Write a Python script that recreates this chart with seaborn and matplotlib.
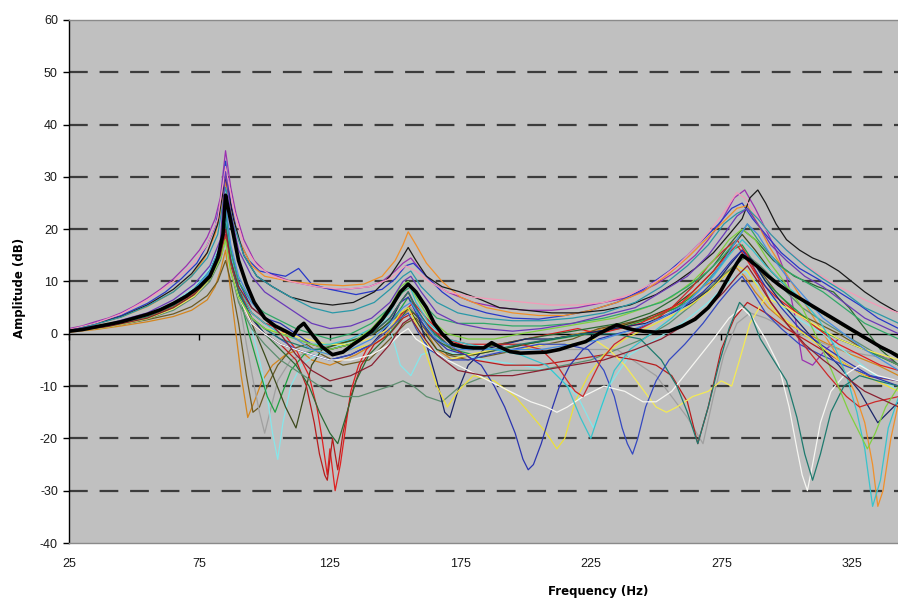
import numpy as np
import pandas as pd
import matplotlib
matplotlib.use("Agg")
import matplotlib.pyplot as plt
import seaborn as sns

# ---------------- data (Hz, dB) ----------------
purple = [(25,1),(30,1.5),(35,2.3),(40,3),(45,4),(50,5.3),(55,6.8),(60,8.5),(65,10.5),(70,13),(75,16),(78,18.5),(81,22),(83,26),(85,35),(87,28),(89,23),(92,18),(96,14),(100,12),(105,11),(110,10),(115,9.5),(120,9),(125,8.6),(130,8.5),(135,8.7),(140,9),(145,10),(150,12),(153,13.5),(156,14.5),(160,12),(165,9.5),(170,8),(175,7),(180,6),(190,5),(200,4.5),(210,4.5),(220,5),(230,6),(240,7),(250,9.5),(258,12),(265,15),(270,18),(275,21.5),(280,26),(284,27.5),(288,24),(292,20),(296,16),(300,11),(303,4),(306,-5),(310,-6),(315,-3),(320,-1),(325,-2),(330,-3),(335,-4),(340,-5),(343,-6)]
blue = [(25,0.7),(35,2),(45,3.5),(55,5.8),(62,8),(68,10.5),(74,13.5),(78,17),(81,20.5),(83,25),(85,33),(87,25),(90,18),(94,14),(98,12),(103,11.5),(108,11),(113,12.5),(118,9.5),(125,8.5),(135,7.5),(145,8.5),(150,10.5),(154,13),(157,13.5),(162,11),(168,8),(175,5.5),(185,4),(195,3),(205,2.8),(215,3.5),(225,4.5),(235,6),(245,8.5),(255,12),(262,15),(268,18),(274,21),(279,24),(283,25),(287,22),(292,19),(298,15.5),(305,12.5),(312,10.5),(320,8),(328,5.5),(335,3),(343,1)]
orange = [(25,0.6),(35,1.8),(45,3.2),(55,5.2),(65,8),(72,11),(77,14.5),(81,19),(83,23),(85,29),(87,24),(90,18),(95,13),(100,11),(105,10.5),(110,10),(120,9.5),(130,9.2),(138,9.5),(145,11),(150,14),(153,17),(155,19.5),(158,17),(162,13.5),(168,10),(175,7),(185,5),(195,4),(205,3.5),(215,3.5),(225,4.5),(235,6),(245,8),(255,11.5),(263,15),(270,18.5),(276,21.5),(281,24),(285,24.5),(289,21),(293,17),(298,13),(303,9),(308,5),(313,1),(318,-3),(322,-7),(326,-11),(330,-17),(333,-25),(335,-33),(337,-30),(340,-20),(343,-13)]
orange2 = [(25,0.3),(35,0.8),(45,1.5),(55,2.3),(65,3.3),(72,4.5),(78,6.5),(81,9),(83,12),(85,16),(87,8),(89,0),(91,-8),(93.5,-16),(96,-13),(99,-9),(103,-6),(108,-4),(113,-3),(118,-5),(125,-6),(135,-4),(145,-1),(152,3),(156,5),(160,2),(166,-3),(172,-5),(180,-4),(190,-3),(200,-2),(210,-1),(220,0),(230,1),(240,2),(250,3),(260,6),(268,9),(275,11),(280,13),(284,11),(288,8),(293,5),(300,2),(308,0),(316,-2),(325,-4),(335,-6),(343,-8)]
olive = [(25,0.4),(35,1),(45,1.8),(55,2.7),(65,3.8),(72,5.2),(78,7.3),(82,10),(85,14),(87,10),(90,2),(93,-8),(95.5,-15),(98,-14),(101,-10),(105,-6),(110,-3),(116,-2),(122,-4),(130,-6),(140,-5),(148,-1),(154,2),(158,3),(163,0),(170,-4),(178,-5),(188,-4),(198,-3),(208,-2),(218,-1),(228,1),(238,2),(248,3),(258,5),(266,7),(274,10),(280,13),(285,15),(290,12),(296,8),(304,4),(312,2),(320,0),(330,-3),(343,-6)]
gray = [(25,0.5),(40,1.6),(55,3.5),(65,5.5),(73,8),(79,11.5),(83,16),(85,22),(87,15),(90,7),(93,-2),(96,-10),(98,-15),(100,-19),(102,-15),(105,-9),(110,-5),(118,-3),(126,-2),(135,-1),(145,1),(152,4),(156,5),(160,2),(168,-2),(178,-3),(190,-3),(205,-3),(220,-3),(235,-3),(250,-8),(262,-16),(268,-21),(272,-12),(276,-4),(281,2),(286,4),(292,3),(300,1),(310,-1),(320,-3),(330,-4),(343,-5)]
lightcyan = [(25,0.6),(40,1.8),(55,3.8),(65,6),(73,8.8),(79,12.5),(83,17),(85,22),(87,16),(90,10),(94,3),(98,-5),(101,-12),(103,-19),(105,-24),(107,-17),(110,-10),(114,-6),(120,-4),(130,-2),(140,0),(147,3),(152,-6),(156,-8),(160,-4),(166,-3),(174,-4),(185,-5),(198,-6),(210,-7),(220,-12),(226,-18),(232,-10),(240,-4),(250,-1),(260,2),(270,6),(278,10),(284,12),(290,9),(296,6),(304,3),(314,0),(324,-4),(334,-8),(343,-11)]
green = [(25,0.4),(40,1.5),(55,3.2),(65,5.2),(73,7.8),(79,11),(83,15),(85,20),(87,14),(90,8),(94,0),(98,-7),(101,-12),(104,-15),(107,-11),(110,-7),(115,-4),(120,-3),(128,-2),(136,-1),(145,1),(151,4),(155,7),(159,4),(165,0),(172,-3),(180,-4),(190,-3),(200,-2),(212,-1),(224,0),(236,1),(248,3),(258,5),(266,8),(273,12),(279,16),(283,17),(287,14),(292,10),(298,7),(305,4),(312,1),(320,-1),(330,-3),(343,-6)]
darkolive = [(25,0.5),(40,1.7),(55,3.6),(65,5.8),(73,8.5),(79,12),(83,16.5),(85,21),(87,15),(90,9),(95,2),(100,-4),(104,-9),(108,-14),(112,-18),(115,-12),(118,-6),(122,-3),(128,-2),(135,-1),(142,0),(150,3),(155,5),(160,1),(166,-3),(172,-4),(180,-4),(190,-3),(200,-2),(210,-1),(222,0),(234,1),(246,3),(256,5),(264,8),(272,12),(278,16),(283,19),(288,16),(294,12),(302,8),(310,5),(320,2),(330,-1),(343,-4)]
red1 = [(25,0.5),(40,1.6),(55,3.4),(65,5.4),(73,8),(79,11.5),(83,16),(85,21),(87,15),(90,9),(95,4),(100,2),(106,1),(112,-3),(117,-8),(120,-14),(122,-20),(124,-27),(125,-22),(127,-30),(129,-25),(131,-18),(133,-11),(136,-6),(139,-3),(143,-1),(148,1),(153,4),(157,6),(162,3),(170,-1),(180,-3),(190,-2),(200,-1),(210,0),(220,1),(228,0),(236,1),(244,2),(252,4),(260,6),(266,9),(272,12),(277,15),(281,17),(285,14),(290,10),(296,7),(304,4),(312,1),(320,-2),(328,-4),(336,-6),(343,-7)]
red2 = [(25,0.4),(40,1.4),(55,3),(65,5),(73,7.5),(79,10.5),(83,15),(85,19),(87,13),(90,7),(95,2),(100,0),(106,-2),(112,-5),(116,-10),(119,-17),(121,-23),(123,-27),(124,-28),(126,-20),(128,-26),(130,-19),(133,-12),(137,-6),(142,-2),(148,0),(153,3),(157,4),(162,2),(170,-2),(180,-5),(192,-6),(205,-6),(218,-5),(230,-4),(242,-5),(250,-6),(256,-8),(262,-13),(266,-21),(270,-14),(275,-3),(280,3),(285,6),(292,4),(300,1),(310,-2),(320,-5),(330,-8),(343,-9)]
darkgreen = [(25,0.5),(40,1.6),(55,3.5),(65,5.6),(73,8.2),(79,11.8),(83,16),(85,20),(87,14),(90,8),(95,3),(100,0),(106,-3),(112,-6),(117,-10),(121,-15),(125,-19),(128,-21),(131,-16),(135,-9),(140,-4),(146,-1),(151,2),(155,5),(159,3),(165,-1),(172,-3),(180,-3),(190,-2),(200,-1),(212,0),(224,1),(236,2),(248,4),(258,7),(266,10),(272,13),(278,17),(283,20),(288,18),(295,14),(303,11),(312,9),(318,8),(324,5),(330,1),(336,-3),(343,-6)]
sage = [(25,0.4),(40,1.3),(55,2.8),(65,4.5),(73,7),(79,10),(83,14),(85,18),(87,12),(90,6),(95,1),(100,-2),(106,-5),(112,-7),(118,-9),(124,-11),(130,-12),(136,-12),(142,-11),(148,-10),(153,-9),(157,-10),(162,-12),(168,-13),(175,-10),(185,-8),(195,-7),(205,-7),(215,-6),(225,-5),(235,-3),(245,-1),(255,2),(265,6),(273,10),(280,13),(285,15),(290,13),(298,9),(306,5),(315,2),(325,-1),(335,-4),(343,-6)]
blackthin = [(25,0.7),(35,1.9),(45,3.3),(55,5.5),(65,8.5),(72,11.5),(78,15.5),(82,21),(85,30),(88,22),(92,15),(97,11),(103,9),(110,7),(118,6),(126,5.5),(134,6),(142,8),(148,11),(152,14),(155,16.5),(158,14),(162,11),(168,9),(175,8),(183,6.5),(190,5),(200,4.5),(210,4),(220,4),(230,4.5),(240,5.5),(250,7.5),(258,10),(265,12.5),(272,15.5),(278,19),(283,22),(286,26),(289,27.5),(292,25),(296,21),(300,18),(305,16),(310,14.5),(315,13.5),(320,12),(325,10),(330,8),(336,6),(343,4)]
navy = [(25,0.5),(40,1.5),(55,3.2),(65,5.2),(73,7.8),(79,11),(83,15),(85,19),(87,13),(90,8),(95,3),(100,0),(106,-2),(112,-3),(118,-4),(125,-5),(133,-4),(141,-2),(148,2),(152,6),(155,8),(158,5),(162,-2),(166,-9),(169,-15),(171,-16),(174,-11),(178,-6),(184,-3),(192,-2),(200,-1),(210,-1),(222,0),(234,1),(246,2),(256,4),(264,6),(272,9),(278,13),(283,16),(287,14),(292,10),(298,6),(305,2),(312,-2),(320,-6),(328,-11),(335,-17),(343,-13)]
yellow1 = [(25,0.5),(40,1.5),(55,3.2),(65,5.2),(73,7.8),(79,11),(83,15),(85,19),(87,14),(90,9),(95,5),(100,3),(106,1),(112,-1),(118,-3),(125,-4),(133,-3),(141,-2),(148,1),(152,4),(155,5),(158,2),(162,-4),(166,-10),(170,-14),(174,-11),(180,-8),(188,-9),(196,-12),(203,-16),(208,-19),(212,-22),(215,-20),(219,-13),(224,-8),(230,-4),(238,-1),(246,1),(254,3),(262,5),(270,8),(276,11),(281,13),(285,12),(290,8),(296,4),(304,1),(312,-2),(320,-5),(330,-8),(343,-11)]
yellow2 = [(25,0.4),(40,1.3),(55,2.9),(65,4.8),(73,7.2),(79,10.5),(83,14.5),(85,18),(87,12),(90,7),(95,3),(100,1),(108,0),(116,-1),(124,-2),(132,-2),(140,-1),(148,1),(152,3),(155,4),(158,1),(164,-3),(170,-5),(178,-4),(188,-3),(198,-3),(208,-2),(218,-2),(226,-1),(232,-3),(238,-6),(244,-10),(250,-14),(254,-15),(258,-14),(264,-12),(270,-11),(275,-9),(279,-10),(282,-5),(286,2),(292,7),(300,5),(310,2),(320,-1),(330,-3),(343,-5)]
royal1 = [(25,0.6),(40,1.7),(55,3.6),(65,5.8),(73,8.5),(79,12),(83,16.5),(85,23),(87,16),(90,10),(95,5),(100,3),(106,2),(112,0),(118,-2),(125,-3),(133,-2),(141,0),(148,3),(152,6),(155,7),(158,4),(163,0),(170,-3),(177,-4),(183,-6),(188,-10),(192,-14),(196,-19),(199,-24),(201,-26),(203,-25),(206,-21),(209,-16),(213,-10),(217,-6),(222,-3),(228,-1),(235,0),(243,1),(252,3),(260,5),(268,8),(274,11),(279,14),(283,16),(287,13),(292,9),(298,5),(305,1),(313,-2),(322,-5),(332,-8),(343,-10)]
royal2 = [(25,0.5),(40,1.6),(55,3.4),(65,5.5),(73,8.2),(79,11.5),(83,16),(85,21),(87,14),(90,8),(95,3),(100,1),(106,-1),(112,-3),(118,-4),(125,-5),(133,-4),(141,-2),(148,1),(152,3),(155,4),(158,1),(163,-3),(170,-5),(178,-5),(186,-4),(195,-3),(205,-2),(215,-2),(224,-3),(230,-7),(234,-12),(237,-18),(239,-21),(241,-23),(243,-20),(246,-14),(250,-9),(255,-5),(261,-2),(268,2),(274,6),(279,9),(283,11),(287,8),(292,4),(298,1),(305,-2),(313,-4),(322,-6),(332,-8),(343,-9)]
white = [(25,0.5),(40,1.5),(55,3.3),(65,5.3),(73,8),(79,11.3),(83,15.5),(85,20),(87,13),(90,7),(95,2),(100,0),(106,-2),(112,-3),(118,-4),(125,-5),(133,-5),(141,-4),(148,-2),(152,0),(155,1),(158,-1),(164,-3),(170,-5),(178,-7),(186,-9),(194,-11),(202,-13),(208,-14),(212,-15),(216,-14),(222,-12),(230,-10),(238,-11),(245,-13),(250,-13),(256,-11),(264,-6),(272,-1),(278,3),(283,5),(287,3),(292,-1),(297,-6),(301,-14),(304,-22),(306,-27),(308,-30),(310,-25),(313,-17),(317,-11),(322,-8),(328,-6),(335,-8),(343,-9)]
red3 = [(25,0.5),(40,1.5),(55,3.2),(65,5.2),(73,7.8),(79,11),(83,15),(85,19),(87,13),(90,8),(95,4),(100,2),(106,1),(112,-1),(118,-2),(125,-3),(133,-2),(141,0),(148,3),(152,6),(155,8),(158,5),(163,1),(170,-1),(178,-2),(188,-2),(198,-2),(206,-3),(212,-6),(216,-9),(219,-11),(222,-12),(225,-9),(229,-5),(234,-2),(240,0),(248,2),(256,5),(264,9),(270,13),(276,16),(281,18),(285,15),(289,11),(294,6),(300,2),(308,-3),(316,-8),(323,-12),(328,-14),(334,-13),(343,-12)]
cyan2 = [(25,0.6),(40,1.7),(55,3.6),(65,5.8),(73,8.5),(79,12),(83,16.5),(85,22),(87,15),(90,9),(95,4),(100,2),(106,0),(112,-1),(118,-2),(125,-2),(133,-1),(141,1),(148,4),(152,8),(155,10),(158,6),(163,2),(170,-1),(178,-2),(188,-3),(198,-4),(208,-6),(216,-10),(221,-16),(225,-20),(229,-14),(234,-7),(240,-3),(248,0),(256,3),(264,7),(272,11),(278,15),(283,18),(287,16),(292,13),(298,10),(305,7),(312,3),(318,-2),(323,-8),(327,-15),(330,-22),(333,-33),(336,-28),(339,-18),(343,-12)]
teal = [(25,0.5),(40,1.5),(55,3.3),(65,5.4),(73,8),(79,11.5),(83,16),(85,21),(87,14),(90,8),(95,3),(100,1),(106,-1),(112,-2),(118,-3),(125,-3),(133,-2),(141,0),(148,3),(152,6),(155,8),(158,5),(163,1),(170,-2),(178,-3),(188,-3),(198,-2),(210,-1),(222,0),(234,0),(244,-1),(252,-5),(258,-10),(262,-15),(266,-21),(270,-14),(274,-6),(278,1),(282,6),(286,4),(290,-1),(295,-5),(300,-9),(304,-16),(307,-23),(310,-28),(313,-23),(317,-15),(322,-10),(328,-8),(335,-9),(343,-10)]
lightgreen = [(25,0.4),(40,1.4),(55,3),(65,5),(73,7.5),(79,10.5),(83,14.5),(85,18),(87,12),(90,7),(95,3),(100,1),(106,0),(112,-1),(118,-2),(125,-3),(133,-2),(141,1),(148,5),(152,9),(155,10),(158,7),(163,3),(170,0),(178,-1),(188,-1),(198,0),(210,1),(222,2),(234,3),(246,5),(256,7),(264,10),(272,14),(278,18),(283,20),(288,18),(293,14),(299,10),(306,5),(313,-2),(319,-9),(324,-15),(328,-19),(331,-22),(334,-19),(338,-14),(343,-10)]
pink = [(25,0.8),(35,2),(45,3.8),(55,6.5),(65,10),(72,13),(78,17),(82,22),(85,32),(88,24),(92,17),(97,13),(103,11),(110,10),(120,9),(130,8.5),(140,9),(148,10.5),(154,13),(158,12),(163,10),(170,8),(180,7),(190,6.5),(200,6),(210,5.5),(220,5.5),(230,6),(240,7.5),(250,10),(258,13),(266,17),(272,20.5),(277,24),(281,27),(284,26),(288,23),(292,20),(298,17),(305,14),(312,11.5),(320,9),(330,6.5),(337,5),(343,4)]
teal2 = [(25,0.6),(35,1.8),(45,3.2),(55,5.3),(65,8),(72,11),(78,14.5),(82,19),(85,28),(88,21),(92,15),(97,11),(103,9),(110,7),(118,5),(126,4),(134,4.5),(142,6),(148,8.5),(153,11),(156,12),(160,9),(166,6),(174,4),(184,3),(195,2.5),(206,2.5),(218,3),(230,4),(242,6),(252,9),(262,13),(270,17),(276,21),(281,23),(285,24),(289,22),(294,19),(300,16),(307,13),(314,10.5),(322,8),(330,5),(343,2)]
green2 = [(25,0.5),(40,1.6),(55,3.4),(65,5.5),(73,8.2),(79,11.5),(83,16),(85,24),(87,16),(90,10),(95,6),(100,4),(106,2.5),(112,1),(118,0),(125,-1),(133,0),(141,2),(148,5),(153,8),(156,9),(160,6),(166,3),(174,2),(184,2),(195,1.5),(206,1.5),(218,2),(230,3),(242,4.5),(252,6),(262,9),(270,12),(276,15),(281,18),(285,21),(289,18),(294,15),(300,12),(307,10),(314,8),(322,5),(330,2),(343,-1)]
violet = [(25,0.7),(40,1.9),(55,4),(65,6.5),(73,9.5),(79,13),(83,18),(85,31),(87,23),(90,16),(95,11),(100,8),(106,6),(112,4),(118,2),(125,1),(133,1.5),(141,3),(148,6),(153,10),(156,11),(160,8),(166,4),(174,2),(184,1),(195,0.5),(206,1),(218,2),(230,3.5),(242,5),(252,8),(262,11),(270,15),(276,19),(281,22.5),(285,24),(289,21),(294,17),(300,14),(307,11),(314,9),(322,6),(330,3),(343,0)]
lightblue = [(25,0.5),(40,1.6),(55,3.5),(65,5.7),(73,8.4),(79,11.8),(83,16),(85,25),(87,17),(90,11),(95,6),(100,3),(106,1),(112,-1),(118,-3),(125,-4),(133,-3),(141,-1),(148,2),(153,5),(156,6),(160,3),(166,-1),(174,-3),(184,-3),(195,-3),(206,-3),(218,-2),(230,-1),(242,1),(252,3),(262,6),(270,10),(276,14),(281,18),(285,21),(289,19),(294,15),(300,11),(307,7),(314,3),(322,0),(330,-3),(343,-7)]
maroon = [(25,0.4),(40,1.4),(55,3),(65,5),(73,7.5),(79,10.8),(83,15),(85,20),(87,14),(90,9),(95,5),(100,3),(106,0),(112,-4),(118,-7),(125,-9),(133,-8),(141,-6),(148,-2),(153,2),(156,3),(160,0),(166,-4),(174,-7),(184,-8),(195,-8),(206,-7),(218,-6),(230,-5),(242,-3),(252,-1),(262,2),(270,5),(276,8),(281,11),(285,13),(289,10),(294,6),(300,2),(307,-2),(314,-5),(322,-8),(330,-11),(343,-14)]
mean_line = [(25,0.5),(30,0.8),(35,1.3),(40,1.8),(45,2.3),(50,3),(55,3.7),(60,4.6),(65,5.8),(70,7.2),(75,9),(79,11),(82,14.5),(84,19),(85,26.5),(86,24),(88,19),(90,14),(93,9.5),(96,6),(100,3),(104,1.5),(108,0.5),(111,-0.3),(113,1.2),(115,2),(118,0),(122,-2.5),(126,-4),(130,-3.5),(134,-2),(137,-1),(141,0.5),(145,2.7),(149,5.5),(152,8),(155,9.5),(158,8),(162,5),(165,2),(168,0),(172,-2),(176,-2.5),(180,-2.7),(184,-2.7),(187,-1.7),(190,-2.5),(194,-3.4),(198,-3.7),(203,-3.6),(208,-3.5),(213,-3),(218,-2.2),(223,-1.5),(228,0),(232,1),(235,1.7),(238,1.2),(241,0.8),(245,0.5),(250,0.3),(255,0.5),(260,1.5),(265,2.8),(270,5),(274,7.5),(278,11),(281,13.5),(283,15),(286,14),(289,12.8),(293,11),(297,9.4),(301,8),(306,6.5),(311,5),(316,3.5),(321,2),(326,0.5),(331,-1),(336,-2.5),(340,-3.5),(343,-4.4)]

series_colors = {
    "purple": "#9b30b0", "blue": "#2838c8", "orange": "#f0902a", "orange2": "#d4861e",
    "olive": "#6b5a24", "gray": "#a0a0a0", "lightcyan": "#86e6ea", "green": "#1fa040",
    "darkolive": "#3d4a1c", "red1": "#e02020", "red2": "#b81c1c", "darkgreen": "#2c6a34",
    "sage": "#5e8e70", "blackthin": "#1a1a1a", "navy": "#1a2468", "yellow1": "#ece03a",
    "yellow2": "#f4ea55", "royal1": "#2b35b0", "royal2": "#3448c0", "white": "#f6f6f2",
    "red3": "#cc2a2a", "cyan2": "#38c4cc", "teal": "#1e7a6e", "lightgreen": "#80d040",
    "pink": "#f49ab8", "teal2": "#2a98a8", "green2": "#30a868", "violet": "#6a3ab8",
    "lightblue": "#4a8ee0", "maroon": "#8a2030",
}
series_data = {
    "purple": purple, "blue": blue, "orange": orange, "orange2": orange2, "olive": olive,
    "gray": gray, "lightcyan": lightcyan, "green": green, "darkolive": darkolive,
    "red1": red1, "red2": red2, "darkgreen": darkgreen, "sage": sage, "blackthin": blackthin,
    "navy": navy, "yellow1": yellow1, "yellow2": yellow2, "royal1": royal1, "royal2": royal2,
    "white": white, "red3": red3, "cyan2": cyan2, "teal": teal, "lightgreen": lightgreen,
    "pink": pink, "teal2": teal2, "green2": green2, "violet": violet,
    "lightblue": lightblue, "maroon": maroon,
}

x_ticks = [25, 75, 125, 175, 225, 275, 325]
y_ticks = [-40, -30, -20, -10, 0, 10, 20, 30, 40, 50, 60]
grid_levels = [-30, -20, -10, 10, 20, 30, 40, 50]

# ---------------- build long frame ----------------
rows = []
for name, pts in series_data.items():
    for i, (f, a) in enumerate(pts):
        rows.append({"series": name, "order": i, "hz": f, "db": a})
df = pd.DataFrame(rows)
mean_df = pd.DataFrame(mean_line, columns=["hz", "db"])

# ---------------- figure ----------------
plt.rcParams["font.family"] = ["Liberation Sans", "DejaVu Sans"]
plt.rcParams["lines.scale_dashes"] = False

fig = plt.figure(figsize=(8.98, 6.01), dpi=100)
fig.patch.set_facecolor("white")
ax = fig.add_axes([69 / 898, 58 / 601, 831 / 898, 523 / 601])
ax.set_facecolor("#c0c0c0")

for lv in grid_levels:
    ax.axhline(lv, color="#3c3c3c", lw=1.6, linestyle=(0, (13.5, 8.5)), zorder=1)
ax.axhline(0, color="black", lw=1.0, zorder=1.5)

sns.lineplot(data=df, x="hz", y="db", hue="series", units="series", estimator=None,
             sort=False, palette=series_colors, lw=0.9, legend=False, ax=ax, zorder=2)
sns.lineplot(data=mean_df, x="hz", y="db", color="black", lw=2.6, sort=False,
             estimator=None, ax=ax, zorder=3)

ax.set_xlim(25, 343.5)
ax.set_ylim(-40, 60)
ax.set_xticks(x_ticks)
ax.set_xticklabels([str(t) for t in x_ticks])
ax.set_yticks(y_ticks)
ax.set_yticklabels([str(t) for t in y_ticks])
ax.tick_params(axis="x", length=0, pad=11, labelsize=9, colors="#1a1a1a")
ax.tick_params(axis="y", direction="out", length=4, width=1, pad=4, labelsize=9,
               colors="black", labelcolor="#1a1a1a")
ax.set_xlabel("")
ax.set_ylabel("")

for s in ["top", "bottom"]:
    ax.spines[s].set_color("#8a8a8a")
    ax.spines[s].set_linewidth(1.0)
ax.spines["right"].set_visible(False)
ax.spines["left"].set_color("black")
ax.spines["left"].set_linewidth(1.0)

sec = ax.secondary_xaxis(0.4)
sec.set_xticks(x_ticks)
sec.set_xticklabels([])
sec.tick_params(direction="out", length=4, width=1, colors="black")
sec.spines["bottom"].set_visible(False)

fig.text(598 / 898, 1 - 592 / 601, "Frequency (Hz)", ha="center", va="center",
         fontsize=8.5, fontweight="bold", family=["DejaVu Sans"])
fig.text(20 / 898, 1 - 288 / 601, "Amplitude (dB)", ha="center", va="center",
         rotation=90, fontsize=8.5, fontweight="bold", family=["DejaVu Sans"])

fig.savefig("out.png", dpi=100)
